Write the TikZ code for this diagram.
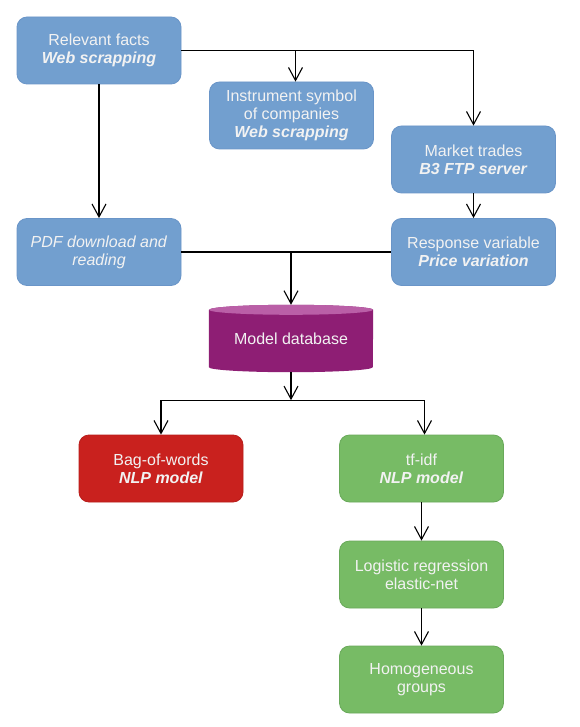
\documentclass[tikz,border=0pt]{standalone}
\usepackage{fontspec}
\setmainfont{Liberation Sans}
\usetikzlibrary{arrows.meta,calc,backgrounds}
\definecolor{boxblue}{HTML}{729FCF}
\definecolor{boxblueb}{HTML}{6A95C8}
\definecolor{boxred}{HTML}{C9211E}
\definecolor{boxredb}{HTML}{B81D1B}
\definecolor{boxgreen}{HTML}{77BB65}
\definecolor{boxgreenb}{HTML}{69A95A}
\definecolor{dbbody}{HTML}{8E1E74}
\definecolor{dbtop}{HTML}{BA5FA7}
\definecolor{textw}{HTML}{F2F2F2}
\begin{document}
\begin{tikzpicture}[x=1pt,y=1pt,
  box/.style={rounded corners=10pt, minimum width=164pt, minimum height=67pt,
    inner sep=0pt, align=center, text=textw,
    font=\fontsize{16}{18}\selectfont, line width=0.8pt},
  bluebox/.style={box, fill=boxblue, draw=boxblueb},
  redbox/.style={box, fill=boxred, draw=boxredb},
  greenbox/.style={box, fill=boxgreen, draw=boxgreenb},
  dbbox/.style={minimum width=164pt, minimum height=67pt, inner sep=0pt,
    align=center, text=textw, font=\fontsize{16}{18}\selectfont},
  conn/.style={line width=1.1pt, draw=black},
  arr/.style={conn, -{Straight Barb[length=13pt,width=14pt]}},
]
\useasboundingbox (0,0) rectangle (579,-727);

\node[bluebox] (rf) at (99,-50.5) {Relevant facts\\\textbf{\textit{Web scrapping}}};
\node[bluebox] (ins) at (291.5,-115.5) {Instrument symbol\\of companies\\\textbf{\textit{Web scrapping}}};
\node[bluebox] (mt) at (473.5,-159.5) {Market trades\\\textbf{\textit{B3 FTP server}}};
\node[bluebox] (pdf) at (99,-252) {\textit{PDF download and}\\\textit{reading}};
\node[bluebox] (rv) at (473.5,-252) {Response variable\\\textbf{\textit{Price variation}}};
\node[dbbox] (db) at (291,-338.5) {\raisebox{-3pt}{Model database}};
\node[redbox] (bow) at (161,-468.5) {Bag-of-words\\\textbf{\textit{NLP model}}};
\node[greenbox] (tfidf) at (421.5,-468.5) {tf-idf\\\textbf{\textit{NLP model}}};
\node[greenbox] (lr) at (421.5,-574.5) {Logistic regression\\elastic-net};
\node[greenbox] (hg) at (421.5,-679.5) {Homogeneous\\groups};

\begin{scope}[on background layer]
  \fill[white] (0,0) rectangle (579,-727);
  \fill[dbbody] ($(db.north west)+(0,-5)$) -- ($(db.south west)+(0,5)$)
    arc[start angle=180,end angle=360,x radius=82,y radius=5]
    -- ($(db.north east)+(0,-5)$)
    arc[start angle=0,end angle=180,x radius=82,y radius=5] -- cycle;
  \fill[dbtop] ($(db.north)+(0,-5)$) ellipse[x radius=82,y radius=5];
\end{scope}

% connectors
\draw[arr] (rf.east) -| (mt.north);
\coordinate (insTop) at ($(ins.north)+(4,0)$);
\coordinate (j1) at (insTop |- rf.east);
\draw[arr] (j1) -- (insTop);
\draw[arr] (rf.south) -- (pdf.north);
\draw[arr] (mt.south) -- (rv.north);
\draw[conn] (pdf.east) -- (rv.west);
\coordinate (j2) at (db.north |- pdf.east);
\draw[arr] (j2) -- (db.north);
\coordinate (j3) at ($(db.south)+(0,-28)$);
\draw[arr] (db.south) -- (j3);
\draw[arr] (j3) -| (bow.north);
\coordinate (tfTop) at ($(tfidf.north)+(3,0)$);
\draw[arr] (j3) -| (tfTop);
\draw[arr] (tfidf.south) -- (lr.north);
\draw[arr] (lr.south) -- (hg.north);
\end{tikzpicture}
\end{document}
